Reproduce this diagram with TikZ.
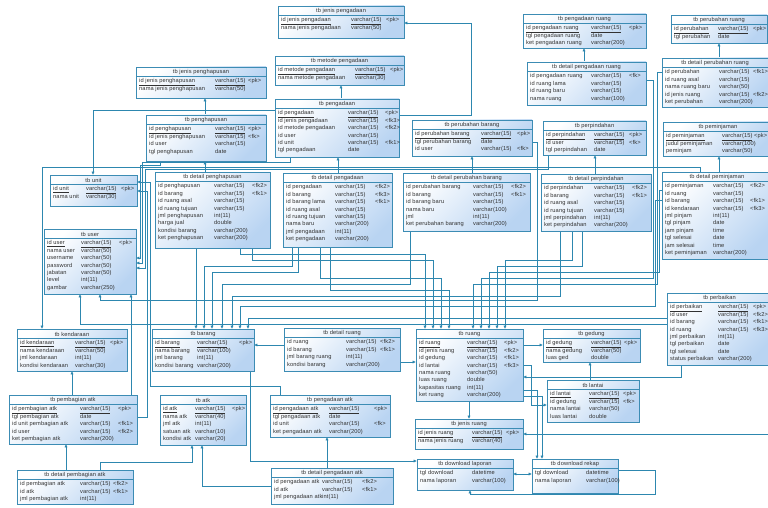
\documentclass[tikz,border=0pt]{standalone}
\usepackage{fontspec}
\newfontfamily\tf[LetterSpace=2]{Liberation Sans}
\usetikzlibrary{calc,arrows.meta,backgrounds}
\definecolor{tblc}{RGB}{60,140,180}
\definecolor{tblfill}{RGB}{185,212,242}
\definecolor{conc}{RGB}{45,135,175}
\definecolor{txt}{RGB}{50,50,50}
\tikzset{
  tbl/.style={draw=tblc, line width=0.9pt, top color=white, bottom color=tblfill, shading angle=45, anchor=north west, inner sep=0pt, outer sep=0pt},
  tsep/.style={draw=tblc, line width=0.6pt},
  ttl/.style={font=\tf\fontsize{5.7}{6.5}\selectfont, text=txt, inner sep=0pt},
  cell/.style={font=\tf\fontsize{5.7}{6.5}\selectfont, text=txt, inner sep=0pt, anchor=west, text height=4pt, text depth=1.2pt},
  fk/.style={draw=conc, line width=0.85pt, -{Latex[length=3.4pt,width=3.2pt]}},
  fkb/.style={draw=conc, line width=0.85pt, {Latex[length=3.4pt,width=3.2pt]}-{Latex[length=3.4pt,width=3.2pt]}}
}
\newcommand\tb[9]{%
  \node[tbl, minimum width=#4pt, minimum height=#5pt] (#1) at (#2,#3) {};
  \draw[tsep] ($(#1.north west)+(0,9.5)$) -- ($(#1.north east)+(0,9.5)$);
  \node[ttl] (#1-t) at ($(#1.north)+(0,5)$) {#6};
  \def\tbn{#1}\def\tbx{#2}\def\tby{#3}\def\ctwo{#7}\def\cthree{#8}%
  #9%
}
\newcommand\rw[4]{%
  \pgfmathsetmacro\ry{\tby+14.5+(#1-1)*7.4}%
  \node[cell] (\tbn-#1a) at (\tbx+3,\ry) {#2};
  \node[cell] (\tbn-#1b) at (\tbx+\ctwo,\ry) {#3};
  \node[cell] (\tbn-#1c) at (\tbx+\cthree,\ry) {#4};
}
\begin{document}
\begin{tikzpicture}[x=1pt,y=-1pt]
\useasboundingbox (0,0) rectangle (768,508);
% ---------------- tables ----------------
\tb{jpengadaan}{278}{6}{126}{32}{tb jenis pengadaan}{73}{108}{%
\rw{1}{\underline{id jenis pengadaan}}{\underline{varchar(15)}}{<pk>}%
\rw{2}{nama jenis pengadaan}{varchar(50)}{}}
\tb{metode}{275}{56}{129}{29}{tb metode pengadaan}{80}{115}{%
\rw{1}{\underline{id metode pengadaan}}{\underline{varchar(15)}}{<pk>}%
\rw{2}{nama metode pengadaan}{varchar(30)}{}}
\tb{jpenghapusan}{136}{67}{130}{31}{tb jenis penghapusan}{79}{112}{%
\rw{1}{\underline{id jenis penghapusan}}{\underline{varchar(15)}}{<pk>}%
\rw{2}{nama jenis penghapusan}{varchar(50)}{}}
\tb{penghapusan}{146}{115}{120}{46}{tb penghapusan}{69}{102}{%
\rw{1}{\underline{id penghapusan}}{\underline{varchar(15)}}{<pk>}%
\rw{2}{id jenis penghapusan}{varchar(15)}{<fk>}%
\rw{3}{id user}{varchar(15)}{}%
\rw{4}{tgl penghapusan}{date}{}}
\tb{pengadaan}{275}{99}{124}{58}{tb pengadaan}{73}{110}{%
\rw{1}{\underline{id pengadaan}}{\underline{varchar(15)}}{<pk>}%
\rw{2}{id jenis pengadaan}{varchar(15)}{<fk3>}%
\rw{3}{id metode pengadaan}{varchar(15)}{<fk2>}%
\rw{4}{id user}{varchar(15)}{}%
\rw{5}{id unit}{varchar(15)}{<fk1>}%
\rw{6}{tgl pengadaan}{date}{}}
\tb{perubahanbarang}{412}{120}{120}{36}{tb perubahan barang}{69}{105}{%
\rw{1}{\underline{id perubahan barang}}{\underline{varchar(15)}}{<pk>}%
\rw{2}{tgl perubahan barang}{date}{}%
\rw{3}{id user}{varchar(15)}{<fk>}}
\tb{pengadaanruang}{523}{14}{123}{34}{tb pengadaan ruang}{68}{106}{%
\rw{1}{\underline{id pengadaan ruang}}{\underline{varchar(15)}}{<pk>}%
\rw{2}{tgl pengadaan ruang}{date}{}%
\rw{3}{ket pengadaan ruang}{varchar(200)}{}}
\tb{dpengadaanruang}{527}{62}{119}{43}{tb detail pengadaan ruang}{64}{102}{%
\rw{1}{id pengadaan ruang}{varchar(15)}{<fk>}%
\rw{2}{id ruang lama}{varchar(15)}{}%
\rw{3}{id ruang baru}{varchar(15)}{}%
\rw{4}{nama ruang}{varchar(100)}{}}
\tb{perubahanruang}{671}{15}{96}{28}{tb perubahan ruang}{47}{82}{%
\rw{1}{\underline{id perubahan}}{\underline{varchar(15)}}{<pk>}%
\rw{2}{tgl perubahan}{date}{}}
\tb{dperubahanruang}{662}{58}{106}{49}{tb detail perubahan ruang}{57}{91}{%
\rw{1}{id perubahan}{varchar(15)}{<fk1>}%
\rw{2}{id ruang asal}{varchar(15)}{}%
\rw{3}{nama ruang baru}{varchar(50)}{}%
\rw{4}{id jenis ruang}{varchar(15)}{<fk2>}%
\rw{5}{ket perubahan}{varchar(200)}{}}
\tb{perpindahan}{543}{121}{103}{34}{tb perpindahan}{51}{86}{%
\rw{1}{\underline{id perpindahan}}{\underline{varchar(15)}}{<pk>}%
\rw{2}{id user}{varchar(15)}{<fk>}%
\rw{3}{tgl perpindahan}{date}{}}
\tb{peminjaman}{663}{122}{110}{34}{tb peminjaman}{59}{91}{%
\rw{1}{\underline{id peminjaman}}{\underline{varchar(15)}}{<pk>}%
\rw{2}{judul peminjaman}{varchar(100)}{}%
\rw{3}{peminjam}{varchar(50)}{}}
\tb{unit}{50}{175}{87}{31}{tb unit}{36}{71}{%
\rw{1}{\underline{id unit}}{\underline{varchar(15)}}{<pk>}%
\rw{2}{nama unit}{varchar(30)}{}}
\tb{dpenghapusan}{155}{172}{115}{76}{tb detail penghapusan}{59}{97}{%
\rw{1}{id penghapusan}{varchar(15)}{<fk2>}%
\rw{2}{id barang}{varchar(15)}{<fk1>}%
\rw{3}{id ruang asal}{varchar(15)}{}%
\rw{4}{id ruang tujuan}{varchar(15)}{}%
\rw{5}{jml penghapusan}{int(11)}{}%
\rw{6}{harga jual}{double}{}%
\rw{7}{kondisi barang}{varchar(200)}{}%
\rw{8}{ket penghapusan}{varchar(200)}{}}
\tb{dpengadaan}{283}{173}{109}{74}{tb detail pengadaan}{52}{92}{%
\rw{1}{id pengadaan}{varchar(15)}{<fk2>}%
\rw{2}{id barang}{varchar(15)}{<fk3>}%
\rw{3}{id barang lama}{varchar(15)}{<fk1>}%
\rw{4}{id ruang asal}{varchar(15)}{}%
\rw{5}{id ruang tujuan}{varchar(15)}{}%
\rw{6}{nama baru}{varchar(200)}{}%
\rw{7}{jml pengadaan}{int(11)}{}%
\rw{8}{ket pengadaan}{varchar(200)}{}}
\tb{dperubahanbarang}{403}{173}{127}{58}{tb detail perubahan barang}{70}{108}{%
\rw{1}{id perubahan barang}{varchar(15)}{<fk2>}%
\rw{2}{id barang}{varchar(15)}{<fk1>}%
\rw{3}{id barang baru}{varchar(15)}{}%
\rw{4}{nama baru}{varchar(100)}{}%
\rw{5}{jml}{int(11)}{}%
\rw{6}{ket perubahan barang}{varchar(200)}{}}
\tb{dperpindahan}{541}{174}{110}{57}{tb detail perpindahan}{53}{91}{%
\rw{1}{id perpindahan}{varchar(15)}{<fk2>}%
\rw{2}{id barang}{varchar(15)}{<fk1>}%
\rw{3}{id ruang asal}{varchar(15)}{}%
\rw{4}{id ruang tujuan}{varchar(15)}{}%
\rw{5}{jml perpindahan}{int(11)}{}%
\rw{6}{ket perpindahan}{varchar(200)}{}}
\tb{dpeminjaman}{662}{172}{110}{87}{tb detail peminjaman}{51}{88}{%
\rw{1}{id peminjaman}{varchar(15)}{<fk2>}%
\rw{2}{id ruang}{varchar(15)}{}%
\rw{3}{id barang}{varchar(15)}{<fk1>}%
\rw{4}{id kendaraan}{varchar(15)}{<fk3>}%
\rw{5}{jml pinjam}{int(11)}{}%
\rw{6}{tgl pinjam}{date}{}%
\rw{7}{jam pinjam}{time}{}%
\rw{8}{tgl selesai}{date}{}%
\rw{9}{jam selesai}{time}{}%
\rw{10}{ket peminjaman}{varchar(200)}{}}
\tb{user}{44}{229}{92}{65}{tb user}{37}{75}{%
\rw{1}{\underline{id user}}{\underline{varchar(15)}}{<pk>}%
\rw{2}{nama user}{varchar(50)}{}%
\rw{3}{username}{varchar(50)}{}%
\rw{4}{password}{varchar(50)}{}%
\rw{5}{jabatan}{varchar(50)}{}%
\rw{6}{level}{int(11)}{}%
\rw{7}{gambar}{varchar(250)}{}}
\tb{kendaraan}{17}{329}{110}{42}{tb kendaraan}{58}{93}{%
\rw{1}{\underline{id kendaraan}}{\underline{varchar(15)}}{<pk>}%
\rw{2}{nama kendaraan}{varchar(50)}{}%
\rw{3}{jml kendaraan}{int(11)}{}%
\rw{4}{kondisi kendaraan}{varchar(30)}{}}
\tb{barang}{152}{329}{102}{42}{tb barang}{45}{87}{%
\rw{1}{\underline{id barang}}{\underline{varchar(15)}}{<pk>}%
\rw{2}{nama barang}{varchar(100)}{}%
\rw{3}{jml barang}{int(11)}{}%
\rw{4}{kondisi barang}{varchar(200)}{}}
\tb{druang}{284}{328}{116}{43}{tb detail ruang}{62}{96}{%
\rw{1}{id ruang}{varchar(15)}{<fk2>}%
\rw{2}{id barang}{varchar(15)}{<fk1>}%
\rw{3}{jml barang ruang}{int(11)}{}%
\rw{4}{kondisi barang}{varchar(200)}{}}
\tb{ruang}{416}{329}{107}{72}{tb ruang}{51}{88}{%
\rw{1}{\underline{id ruang}}{\underline{varchar(15)}}{<pk>}%
\rw{2}{id jenis ruang}{varchar(15)}{<fk2>}%
\rw{3}{id gedung}{varchar(15)}{<fk1>}%
\rw{4}{id lantai}{varchar(15)}{<fk3>}%
\rw{5}{nama ruang}{varchar(50)}{}%
\rw{6}{luas ruang}{double}{}%
\rw{7}{kapasitas ruang}{int(11)}{}%
\rw{8}{ket ruang}{varchar(200)}{}}
\tb{gedung}{543}{329}{97}{33}{tb gedung}{48}{81}{%
\rw{1}{\underline{id gedung}}{\underline{varchar(15)}}{<pk>}%
\rw{2}{nama gedung}{varchar(50)}{}%
\rw{3}{luas ged}{double}{}}
\tb{perbaikan}{667}{293}{105}{72}{tb perbaikan}{51}{86}{%
\rw{1}{\underline{id perbaikan}}{\underline{varchar(15)}}{<pk>}%
\rw{2}{id user}{varchar(15)}{<fk2>}%
\rw{3}{id barang}{varchar(15)}{<fk1>}%
\rw{4}{id ruang}{varchar(15)}{<fk3>}%
\rw{5}{jml perbaikan}{int(11)}{}%
\rw{6}{tgl perbaikan}{date}{}%
\rw{7}{tgl selesai}{date}{}%
\rw{8}{status perbaikan}{varchar(200)}{}}
\tb{lantai}{547}{380}{92}{42}{tb lantai}{42}{76}{%
\rw{1}{\underline{id lantai}}{\underline{varchar(15)}}{<pk>}%
\rw{2}{id gedung}{varchar(15)}{<fk>}%
\rw{3}{nama lantai}{varchar(50)}{}%
\rw{4}{luas lantai}{double}{}}
\tb{jenisruang}{415}{419}{108}{30}{tb jenis ruang}{57}{91}{%
\rw{1}{\underline{id jenis ruang}}{\underline{varchar(15)}}{<pk>}%
\rw{2}{nama jenis ruang}{varchar(40)}{}}
\tb{pembagianatk}{9}{395}{128}{49}{tb pembagian atk}{71}{109}{%
\rw{1}{\underline{id pembagian atk}}{\underline{varchar(15)}}{<pk>}%
\rw{2}{tgl pembagian atk}{date}{}%
\rw{3}{id unit pembagian atk}{varchar(15)}{<fk1>}%
\rw{4}{id user}{varchar(15)}{<fk2>}%
\rw{5}{ket pembagian atk}{varchar(200)}{}}
\tb{atk}{160}{395}{86}{50}{tb atk}{35}{72}{%
\rw{1}{\underline{id atk}}{\underline{varchar(15)}}{<pk>}%
\rw{2}{nama atk}{varchar(40)}{}%
\rw{3}{jml atk}{int(11)}{}%
\rw{4}{satuan atk}{varchar(10)}{}%
\rw{5}{kondisi atk}{varchar(20)}{}}
\tb{pengadaanatk}{270}{395}{120}{42}{tb pengadaan atk}{59}{104}{%
\rw{1}{\underline{id pengadaan atk}}{\underline{varchar(15)}}{<pk>}%
\rw{2}{tgl pengadaan atk}{date}{}%
\rw{3}{id unit}{varchar(15)}{<fk>}%
\rw{4}{ket pengadaan atk}{varchar(200)}{}}
\tb{dlaporan}{417}{459}{96}{31}{tb download laporan}{55}{90}{%
\rw{1}{tgl download}{datetime}{}%
\rw{2}{nama laporan}{varchar(100)}{}}
\tb{drekap}{532}{459}{86}{34}{tb download rekap}{54}{80}{%
\rw{1}{tgl download}{datetime}{}%
\rw{2}{nama laporan}{varchar(100)}{}}
\tb{dpembagianatk}{17}{470}{116}{34}{tb detail pembagian atk}{63}{96}{%
\rw{1}{id pembagian atk}{varchar(15)}{<fk2>}%
\rw{2}{id atk}{varchar(15)}{<fk1>}%
\rw{3}{jml pembagian atk}{int(11)}{}}
\tb{dpengadaanatk}{271}{468}{122}{36}{tb detail pengadaan atk}{51}{91}{%
\rw{1}{id pengadaan atk}{varchar(15)}{<fk2>}%
\rw{2}{id atk}{varchar(15)}{<fk1>}%
\rw{3}{jml pengadaan atk}{int(11)}{}}
\coordinate (offr) at (772,434);
% ---------------- connectors ----------------
\begin{scope}[on background layer]
\fill[white] (0,0) rectangle (768,508);
% top cluster
\draw[fk] (pengadaan.east |- 0,115) -- (471,115) -- (471,23) -- (jpengadaan.east |- 0,23);
\draw[fk] (pengadaan.north -| 341,0) -- (metode.south -| 341,0);
\draw[fk] (penghapusan.north -| 205,0) -- (jpenghapusan.south -| 205,0);
\draw[fk] (dpenghapusan.north -| 205,0) -- (penghapusan.south -| 205,0);
\draw[fk] (dpengadaan.north -| 338,0) -- (pengadaan.south -| 338,0);
\draw[fk] (dperubahanbarang.north -| 472,0) -- (perubahanbarang.south -| 472,0);
\draw[fk] (dperpindahan.north -| 595,0) -- (perpindahan.south -| 595,0);
\draw[fk] (dpeminjaman.north -| 719,0) -- (peminjaman.south -| 719,0);
\draw[fk] (dpengadaanruang.north -| 584,0) -- (pengadaanruang.south -| 584,0);
\draw[fk] (dperubahanruang.north -| 719,0) -- (perubahanruang.south -| 719,0);
% unit / user / kendaraan
\draw[fk] (pengadaan.west |- 0,110) -- (93,110) -- (unit.north -| 93,0);
\draw[fk] (penghapusan.south -| 160,0) -- (160,165) -- (140,165) -- (140,258) -- (user.east |- 0,258);
\draw[fk] (pengadaan.south -| 290,0) -- (290,162) -- (142.5,162) -- (142.5,263) -- (user.east |- 0,263);
\draw[fk] (perpindahan.south -| 548,0) -- (548,169.5) -- (145,169.5) -- (145,268) -- (user.east |- 0,268);
\draw[fk] (dpeminjaman.north -| 700,0) -- (700,167) -- (42,167) -- (kendaraan.north -| 42,0);
\draw[fk] (perubahanbarang.east |- 0,142) -- (537,142) -- (537,300) -- (100,300) -- (user.south -| 100,0);
\draw[fk] (perbaikan.west |- 0,324) -- (80,324) -- (user.south -| 80,0);
\draw[fk] (pembagianatk.north -| 131,0) -- (user.south -| 131,0);
\draw[fk] (pembagianatk.east |- 0,417) -- (147.5,417) -- (147.5,191) -- (unit.east |- 0,191);
\draw[fk] (pengadaanatk.north -| 280,0) -- (280,386) -- (150,386) -- (150,182) -- (unit.east |- 0,182);
% barang
\draw[fk] (dpenghapusan.south -| 196,0) -- (barang.north -| 196,0);
\draw[fk] (dpengadaan.south -| 292,0) -- (292,266) -- (204,266) -- (barang.north -| 204,0);
\draw[fk] (dpengadaan.south -| 298,0) -- (298,272) -- (212,272) -- (barang.north -| 212,0);
\draw[fk] (dperubahanbarang.south -| 410,0) -- (410,284) -- (222,284) -- (barang.north -| 222,0);
\draw[fk] (dperpindahan.south -| 560,0) -- (560,296) -- (232,296) -- (barang.north -| 232,0);
\draw[fk] (dpeminjaman.west |- 0,200) -- (655,200) -- (655,306) -- (240,306) -- (barang.north -| 240,0);
\draw[fk] (perbaikan.west |- 0,318) -- (248,318) -- (barang.north -| 248,0);
\draw[fk] (druang.west |- 0,345) -- (barang.east |- 0,345);
% ruang
\draw[fk] (druang.east |- 0,362) -- (ruang.west |- 0,362);
\draw[fk] (dpenghapusan.south -| 240,0) -- (240,254) -- (425,254) -- (ruang.north -| 425,0);
\draw[fk] (dpenghapusan.south -| 252,0) -- (252,260) -- (433,260) -- (ruang.north -| 433,0);
\draw[fk] (dpengadaan.south -| 320,0) -- (320,278) -- (441,278) -- (ruang.north -| 441,0);
\draw[fk] (dpengadaan.south -| 330,0) -- (330,290) -- (449,290) -- (ruang.north -| 449,0);
\draw[fk] (dperpindahan.south -| 572,0) -- (572,260) -- (505,260) -- (ruang.north -| 505,0);
\draw[fk] (dperpindahan.south -| 582,0) -- (582,266) -- (497,266) -- (ruang.north -| 497,0);
\draw[fk] (dpeminjaman.west |- 0,190) -- (659,190) -- (659,272) -- (489,272) -- (ruang.north -| 489,0);
\draw[fk] (dpengadaanruang.east |- 0,80) -- (653,80) -- (653,278) -- (481,278) -- (ruang.north -| 481,0);
\draw[fk] (dperubahanruang.west |- 0,72) -- (657,72) -- (657,284) -- (473,284) -- (ruang.north -| 473,0);
\draw[fk] (perbaikan.south -| 681,0) -- (681,377) -- (ruang.east |- 0,377);
% jenis ruang, gedung, lantai
\draw[fk] (ruang.south -| 469,0) -- (jenisruang.north -| 469,0);
\draw[fk] (offr) -- (jenisruang.east |- offr);
\draw[fk] (ruang.east |- 0,345) -- (gedung.west |- 0,345);
\draw[fk] (lantai.north -| 590,0) -- (gedung.south -| 590,0);
\draw[fk] (ruang.east |- 0,365) -- (531,365) -- (531,405) -- (lantai.west |- 0,405);
% downloads
\draw[fkb] (dlaporan.east |- 0,474) -- (drekap.west |- 0,474);
\draw[fk] (barang.south -| 250,0) -- (250,461) -- (dlaporan.west |- 0,461);
\draw[fk] (ruang.east |- 0,390) -- (537,390) -- (drekap.north -| 537,0);
\draw[fk] (ruang.east |- 0,396) -- (542,396) -- (drekap.north -| 542,0);
\draw[fk] (drekap.east |- 0,470) -- (655,470) -- (655,494) -- (470,494) -- (dlaporan.south -| 470,0);
% atk
\draw[fk] (dpembagianatk.north -| 66,0) -- (pembagianatk.south -| 66,0);
\draw[fk] (dpembagianatk.north -| 100,0) -- (100,462) -- (192,462) -- (atk.south -| 192,0);
\draw[fk] (dpengadaanatk.north -| 327,0) -- (pengadaanatk.south -| 327,0);
\draw[fk] (dpengadaanatk.west |- 0,486) -- (202,486) -- (atk.south -| 202,0);
\draw[fk] (pembagianatk.north -| 72,0) -- (kendaraan.south -| 72,0);
\end{scope}
\end{tikzpicture}
\end{document}
